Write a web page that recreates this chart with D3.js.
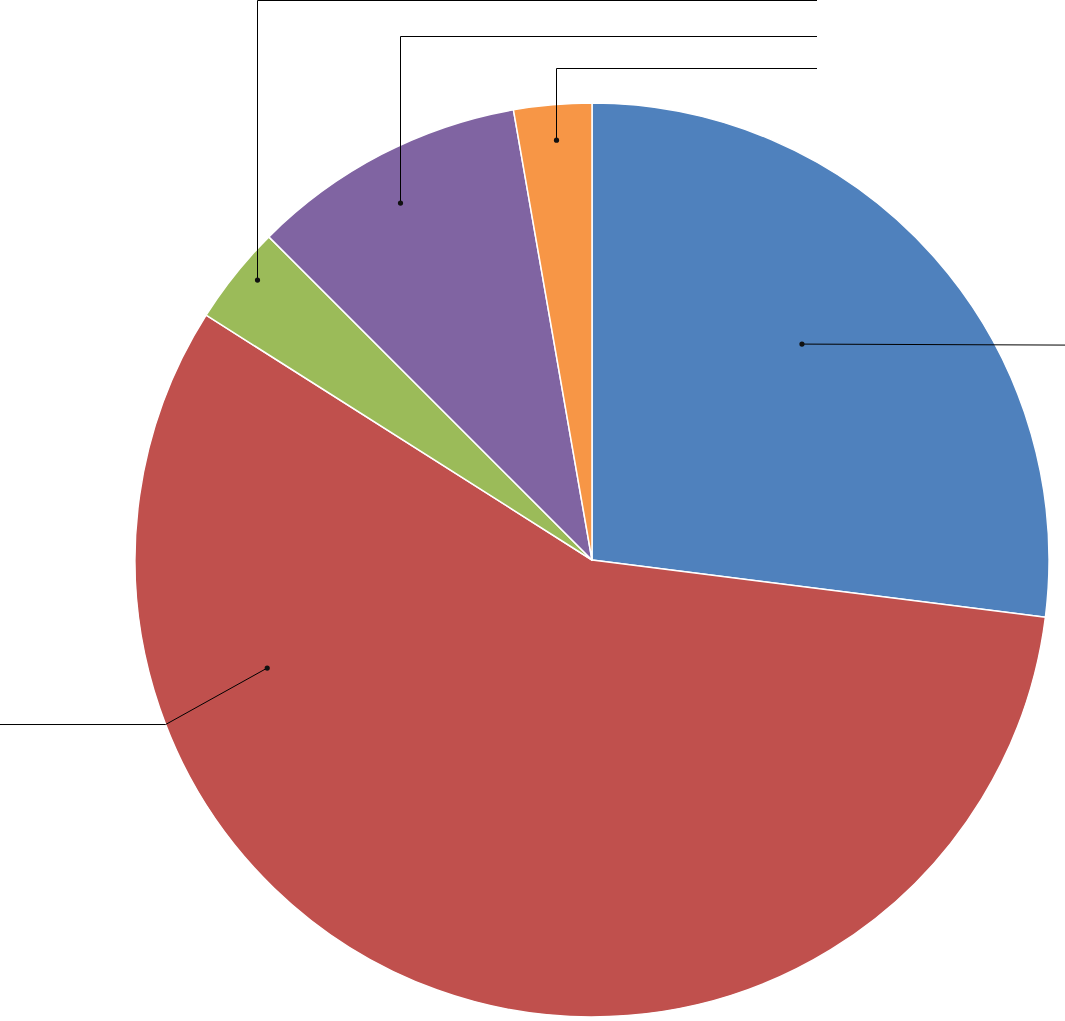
<!DOCTYPE html>
<html>
<head>
<meta charset="utf-8">
<script src="https://cdn.jsdelivr.net/npm/d3@7"></script>
<style>
  html, body { margin: 0; padding: 0; background: #fff; }
  svg { display: block; }
</style>
</head>
<body>
<svg id="chart" width="1065" height="1021"></svg>
<script>
// ---- data ----
const categories = ["Series A", "Series B", "Series C", "Series D", "Series E"];
const values = [27.0, 57.0, 3.5, 9.75, 2.75];
const colors = ["#4F81BD", "#C0504D", "#9BBB59", "#8064A2", "#F79646"];

// ---- layout (leader lines, pie-relative) ----
// dot: angle in degrees clockwise from 12 o'clock, radius as fraction of pie radius
const leaderDotAngle = [44.2, 251.6, 309.9, 331.7, 355.1];
const leaderDotRadius = [0.659, 0.749, 0.955, 0.887, 0.922];

const W = 1065, H = 1021;
const cx = 592, cy = 560, R = 457;

const svg = d3.select("#chart");
const g = svg.append("g").attr("transform", `translate(${cx},${cy})`);

const data = categories.map((c, i) => ({ name: c, value: values[i], color: colors[i] }));

const pie = d3.pie().value(d => d.value).sort(null).startAngle(0).endAngle(2 * Math.PI);
const arcs = pie(data);
const arc = d3.arc().innerRadius(0).outerRadius(R);

g.selectAll("path.slice")
  .data(arcs)
  .join("path")
  .attr("class", "slice")
  .attr("d", arc)
  .attr("fill", d => d.data.color)
  .attr("stroke", "#fff")
  .attr("stroke-width", 1.5)
  .attr("stroke-linejoin", "round");

function polar(deg, r) {
  const a = deg * Math.PI / 180;
  return [cx + r * Math.sin(a), cy - r * Math.cos(a)];
}

const dots = leaderDotAngle.map((a, i) => polar(a, leaderDotRadius[i] * R));

// leader paths
const leaders = [];
// blue: straight to right edge
leaders.push([dots[0], [W, dots[0][1] + 1]]);
// red: to pie edge elbow, then left
const redElbow = polar(248.9, R);
leaders.push([dots[1], redElbow, [0, redElbow[1]]]);
// small slices: up then right
const topY = [0.5, 36.5, 68.5];
const rightX = 817;
[2, 3, 4].forEach((idx, k) => {
  const x = Math.round(dots[idx][0]) + 0.5;
  leaders.push([[x, dots[idx][1]], [x, topY[k]], [rightX, topY[k]]]);
});

const line = d3.line();
svg.append("g").selectAll("path")
  .data(leaders)
  .join("path")
  .attr("d", line)
  .attr("fill", "none")
  .attr("stroke", "#000")
  .attr("stroke-width", 1);

svg.append("g").selectAll("circle")
  .data(dots.map((d, i) => i >= 2 ? [Math.round(d[0]) + 0.5, d[1]] : d))
  .join("circle")
  .attr("cx", d => d[0])
  .attr("cy", d => d[1])
  .attr("r", 2.6)
  .attr("fill", "#111");
</script>
</body>
</html>
